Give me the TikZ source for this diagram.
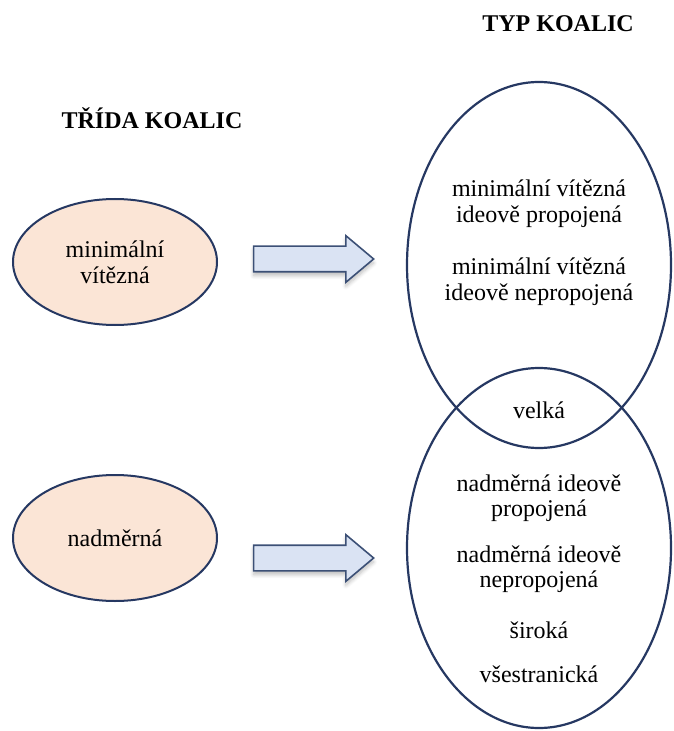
\documentclass[tikz,border=0pt]{standalone}
\usepackage{fontspec}
\setmainfont{Liberation Serif}
\usetikzlibrary{shapes, shapes.geometric, shapes.arrows}
\usetikzlibrary{shadows, shadows.blur}
\definecolor{navy}{RGB}{38,56,98}
\definecolor{peach}{RGB}{251,229,214}
\definecolor{paleblue}{RGB}{218,227,243}
\definecolor{arrowedge}{RGB}{60,80,118}
\tikzset{
    classE/.style={draw=navy, line width=1pt, fill=peach, ellipse, inner sep=0pt,
        minimum width=102pt, minimum height=63pt, align=center},
    typeE/.style={draw=navy, line width=1.1pt, ellipse, inner sep=0pt,
        minimum width=132pt},
    blockA/.style={draw=arrowedge, line width=0.8pt, fill=paleblue, single arrow,
        shape border rotate=0, inner xsep=0pt, inner ysep=6pt, minimum height=60pt,
        single arrow head extend=5.25pt, single arrow tip angle=80,
        blur shadow={shadow xshift=0pt, shadow yshift=-2pt, shadow blur steps=6, shadow opacity=25}},
    title/.style={font=\fontsize{12}{13}\selectfont\bfseries},
    label/.style={align=center, inner sep=0pt, font=\fontsize{12}{12.8}\selectfont}
}
\begin{document}
\begin{tikzpicture}[x=0.5pt, y=-0.5pt]
    \useasboundingbox (0,0) rectangle (673,731);
    \def \cx {539}
    % headings
    \node[title] (typ) at (558, 24) {TYP KOALIC};
    \node[title] (trida) at (152, 118) {TŘÍDA KOALIC};
    % class of coalition
    \node[classE, font=\fontsize{12}{12.8}\selectfont] (minv) at (115, 262) {minimální\\vítězná};
    \node[classE, font=\fontsize{12}{12.8}\selectfont] (nadm) at (115, 538) {nadměrná};
    \node[blockA] (arr1) at (306, 259) {};
    \node[blockA] (arr2) at (306, 558) {};
    % type of coalition
    \node[typeE, minimum height=183pt] (upper) at (\cx, 265) {};
    \node[typeE, minimum height=180pt] (lower) at (\cx, 548) {};
    \node[label] (t1) at (\cx, 204) {minimální vítězná\\ideově propojená};
    \node[label] (t2) at (\cx, 282) {minimální vítězná\\ideově nepropojená};
    \node[label] (t3) at (\cx, 410) {velká};
    \node[label] (t4) at (\cx, 498) {nadměrná ideově\\propojená};
    \node[label] (t5) at (\cx, 569) {nadměrná ideově\\nepropojená};
    \node[label] (t6) at (\cx, 630) {široká};
    \node[label] (t7) at (\cx, 674) {všestranická};
\end{tikzpicture}
\end{document}
